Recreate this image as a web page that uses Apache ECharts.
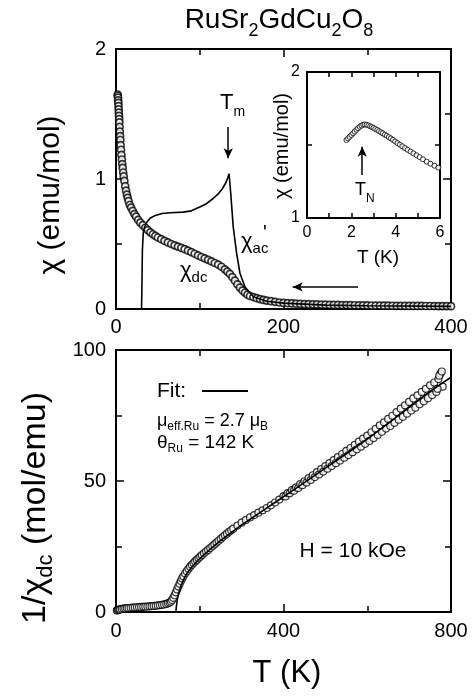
<!DOCTYPE html>
<html>
<head>
<meta charset="utf-8">
<script src="https://cdn.jsdelivr.net/npm/echarts@6/dist/echarts.min.js"></script>
<style>
html,body{margin:0;padding:0;background:#fff;}
#chart{width:474px;height:696px;}
</style>
</head>
<body>
<div id="chart"></div>
<script>
// ---------------- DATA ----------------
// Top panel: chi_dc (emu/mol) vs T (K)
const dcT = [2.0,2.2,2.4,2.6,2.8,3.0,3.2,3.4,3.6,3.8,4.0,4.3,4.6,4.9,5.2,5.6,6.0,6.5,7.0,7.5,8.0,8.6,9.2,10,11,12,13,14,15,16.5,18,20,22,24,26.5,29,32,35,38,41,44,47,50,54,58,62,66,70,74,78,82,86,90,94,98,102,106,110,114,118,122,126,130,133,136,139,142,145,148,151,154,157,160,164,168,172,176,180,185,190,195,200,205,210,215,220,225,230,235,240,245,250,255,260,265,270,275,280,285,290,295,300,305,310,315,320,325,330,335,340,345,350,355,360,365,370,375,380,385,390,395,400];
const dcChi = [1.65,1.64,1.625,1.605,1.585,1.56,1.535,1.51,1.485,1.46,1.435,1.40,1.365,1.33,1.30,1.26,1.225,1.185,1.15,1.115,1.085,1.05,1.02,0.985,0.945,0.91,0.88,0.855,0.83,0.80,0.78,0.755,0.73,0.71,0.685,0.665,0.645,0.625,0.607,0.59,0.575,0.562,0.55,0.537,0.524,0.512,0.50,0.49,0.48,0.47,0.46,0.449,0.437,0.425,0.412,0.40,0.39,0.378,0.366,0.354,0.342,0.325,0.305,0.288,0.27,0.245,0.218,0.19,0.165,0.142,0.125,0.11,0.10,0.092,0.083,0.076,0.07,0.065,0.06,0.055,0.05,0.047,0.045,0.043,0.041,0.0395,0.038,0.037,0.036,0.035,0.034,0.033,0.032,0.0315,0.031,0.0305,0.030,0.0295,0.029,0.0285,0.028,0.0275,0.027,0.0265,0.026,0.0258,0.0255,0.025,0.0248,0.0245,0.0242,0.024,0.0238,0.0236,0.0234,0.0232,0.023,0.0228,0.0226,0.0224,0.0222,0.022];

// Top panel: chi_ac' (line)
const acT = [30.5,31,31.5,32.5,34,37,41,47,55,65,80,90,100,108,116,122,127,131,133.5,135,137,140,144,148,154,164,180,200,250,300,400];
const acChi = [0,0.2,0.45,0.58,0.63,0.67,0.70,0.72,0.735,0.74,0.745,0.755,0.785,0.81,0.85,0.885,0.925,0.97,1.01,1.04,0.89,0.63,0.43,0.275,0.17,0.095,0.06,0.045,0.03,0.025,0.02];

// Inset: chi (emu/mol) vs T (K), low temperature
const inT = [1.78,1.85,1.92,2.0,2.08,2.15,2.23,2.3,2.38,2.46,2.54,2.61,2.69,2.77,2.85,2.92,3.0,3.08,3.17,3.25,3.34,3.42,3.51,3.6,3.69,3.78,3.88,3.98,4.08,4.19,4.3,4.42,4.54,4.67,4.8,4.94,5.08,5.23,5.4,5.57,5.75,5.93];
const inChi = [1.534,1.545,1.556,1.568,1.58,1.592,1.604,1.615,1.625,1.633,1.639,1.641,1.638,1.634,1.628,1.623,1.617,1.61,1.603,1.595,1.587,1.58,1.571,1.563,1.554,1.545,1.535,1.524,1.513,1.502,1.491,1.479,1.467,1.455,1.443,1.43,1.417,1.402,1.386,1.372,1.358,1.345];

// Bottom panel: 1/chi_dc (mol/emu) vs T (K)
const invT = [2,4,6,8,10,14,18,22,26,30,35,40,45,50,55,60,65,70,75,80,85,90,95,100,105,110,115,120,124,128,131,134,137,140,143,146,149,152,155,158,161,165,169,173,177,181,185,189,193,197,201,205,210,215,220,225,230,235,240,245,250,255,260,265,270,275,280,290,300,310,320,330,340,350,360,370,380,390,400,405,410,415,420,425,430,435,440,445,450,455,460,465,470,475,480,485,490,495,500,505,510,515,520,525,530,535,540,545,550,555,560,565,570,575,580,585,590,595,600,605,610,615,620,625,630,635,640,645,650,655,660,665,670,675,680,685,690,695,700,705,710,715,720,725,730,735,740,745,750,755,760,765,770,775,780,772,778,768];
const invChi = [0.61,0.7,0.82,0.92,1.0,1.17,1.3,1.38,1.47,1.52,1.6,1.68,1.75,1.82,1.88,1.93,1.98,2.03,2.1,2.16,2.23,2.3,2.37,2.5,2.6,2.75,2.9,3.1,3.3,3.6,4.0,4.6,5.4,6.4,7.5,8.6,9.7,10.8,11.8,12.8,13.6,14.7,15.6,16.5,17.3,18.0,18.7,19.3,19.9,20.5,21.1,21.7,22.4,23.1,23.7,24.4,25.1,25.8,26.5,27.2,27.9,28.6,29.3,29.9,30.6,31.2,31.8,33.0,34.1,35.1,36.1,37.0,37.9,38.8,39.7,40.7,41.8,42.9,44.2,44.1,45.4,45.3,46.5,46.3,47.6,47.3,48.8,48.4,49.9,49.4,51.1,50.4,52.2,51.5,53.4,52.5,54.5,53.6,55.7,54.7,56.8,55.7,58.0,56.8,59.1,57.8,60.3,58.9,61.5,59.9,62.6,61.0,63.8,62.1,65.0,63.1,66.2,64.2,67.3,65.3,68.6,66.4,69.9,67.6,71.2,68.8,72.4,70.0,73.7,71.0,74.9,72.2,76.3,73.4,77.6,74.5,78.9,75.7,80.2,76.9,81.5,78.0,82.7,79.3,84.0,80.4,85.2,81.6,86.5,82.8,87.6,84.0,88.9,91.0,86.0,90.2,91.8,85.2];

// Bottom panel: fit curve
const fitT = [143,144,145.5,147,149,152,156,160,165,170,180,190,200,225,250,275,300,350,400,450,500,550,600,650,700,750,800];
const fitV = [0,1.8,3.8,5.3,6.8,8.4,10.3,11.9,13.5,14.9,17.0,18.8,20.4,24.0,27.3,30.3,33.2,38.6,44.0,49.4,54.9,60.4,66.0,72.0,78.2,84.2,89.6];

// Axis tick settings
const topXTicks = {min:0, max:400, interval:200};
const topYTicks = {min:0, max:2, interval:1};
const insXTicks = {min:0, max:6, interval:2};
const insYTicks = {min:1, max:2, interval:1};
const botXTicks = {min:0, max:800, interval:400};
const botYTicks = {min:0, max:100, interval:50};

// ---------------- CHART ----------------
const FONT = '"Liberation Sans", Arial, Helvetica, sans-serif';
const zip = (a, b) => a.map((v, i) => [v, b[i]]);

const chart = echarts.init(document.getElementById('chart'), null, {renderer: 'canvas'});

function mkAxis(grid, ticks, pos, showLabel, fs, margin, tickLen, minorLen) {
  return {
    type: 'value', gridIndex: grid, position: pos,
    min: ticks.min, max: ticks.max, interval: ticks.interval,
    axisLine: {show: true, onZero: false, lineStyle: {color: '#000', width: 2}},
    axisTick: {show: true, inside: true, length: tickLen, lineStyle: {color: '#000', width: 1.5}},
    minorTick: {show: true, splitNumber: 2, length: minorLen, lineStyle: {color: '#000', width: 1.5}},
    splitLine: {show: false},
    axisLabel: {show: showLabel, color: '#000', fontFamily: FONT, fontSize: fs, margin: margin},
  };
}

const ctx = document.createElement('canvas').getContext('2d');
function measure(t, s) { ctx.font = s + 'px ' + FONT; return ctx.measureText(t).width; }
// pieces: [text, fontSize, dy]
function label(x, y, pieces, rot, align) {
  let cur = 0;
  const children = pieces.map(p => {
    const el = {type: 'text', x: cur, y: p[2] || 0,
      style: {text: p[0], fontSize: p[1], fontFamily: FONT, fill: '#000', align: 'left', verticalAlign: 'middle'}};
    cur += measure(p[0], p[1]);
    return el;
  });
  const off = align === 'left' ? 0 : -cur / 2;
  children.forEach(c => c.x += off);
  return {type: 'group', x: x, y: y, rotation: rot || 0, children: children, silent: true};
}

const option = {
  animation: false,
  backgroundColor: '#fff',
  grid: [
    {left: 116, top: 49, width: 335, height: 260},
    {left: 307, top: 72, width: 133, height: 146},
    {left: 116, top: 350, width: 335, height: 262}
  ],
  xAxis: [
    mkAxis(0, topXTicks, 'bottom', true, 20, 8, 8, 6),
    mkAxis(0, topXTicks, 'top', false, 20, 8, 8, 6),
    mkAxis(1, insXTicks, 'bottom', true, 16, 7, 5, 5),
    mkAxis(1, insXTicks, 'top', false, 16, 7, 5, 5),
    mkAxis(2, botXTicks, 'bottom', true, 20, 9, 8, 6),
    mkAxis(2, botXTicks, 'top', false, 20, 9, 8, 6)
  ],
  yAxis: [
    mkAxis(0, topYTicks, 'left', true, 20, 10, 8, 6),
    mkAxis(0, topYTicks, 'right', false, 20, 10, 8, 6),
    mkAxis(1, insYTicks, 'left', true, 16, 7, 5, 5),
    mkAxis(1, insYTicks, 'right', false, 16, 7, 5, 5),
    mkAxis(2, botYTicks, 'left', true, 20, 10, 8, 6),
    mkAxis(2, botYTicks, 'right', false, 20, 10, 8, 6)
  ],
  series: [
    {type: 'line', xAxisIndex: 0, yAxisIndex: 0, data: zip(acT, acChi), showSymbol: false, symbol: 'none',
     lineStyle: {color: '#000', width: 1.6}, z: 3,
     markLine: {silent: true, symbol: ['none','arrow'], symbolSize: [7,10], animation: false, label: {show: false},
       lineStyle: {color: '#000', width: 1.5, type: 'solid'},
       data: [[{coord: [134, 1.40]}, {coord: [134, 1.16]}], [{coord: [289, 0.17]}, {coord: [211, 0.17]}]]}},
    {type: 'scatter', xAxisIndex: 0, yAxisIndex: 0, data: zip(dcT, dcChi), symbol: 'circle', symbolSize: 7,
     itemStyle: {color: '#fff', borderColor: '#000', borderWidth: 1.7}, z: 2},
    {type: 'scatter', xAxisIndex: 2, yAxisIndex: 2, data: zip(inT, inChi), symbol: 'circle', symbolSize: 5,
     itemStyle: {color: '#fff', borderColor: '#000', borderWidth: 1},
     markLine: {silent: true, symbol: ['none','arrow'], symbolSize: [7,10], animation: false, label: {show: false},
       lineStyle: {color: '#000', width: 1.5, type: 'solid'},
       data: [[{coord: [2.49, 1.295]}, {coord: [2.49, 1.488]}]]}},
    {type: 'scatter', xAxisIndex: 4, yAxisIndex: 4, data: zip(invT, invChi), symbol: 'circle', symbolSize: 7,
     itemStyle: {color: '#fff', borderColor: '#000', borderWidth: 1.2}, z: 2},
    {type: 'line', xAxisIndex: 4, yAxisIndex: 4, data: zip(fitT, fitV), showSymbol: false, symbol: 'none',
     lineStyle: {color: '#000', width: 1.6}, z: 3}
  ],
  graphic: [
    label(279, 20, [['RuSr',28],['2',18,11],['GdCu',28],['2',18,11],['O',28],['8',18,11]]),
    label(51, 195, [['χ (emu/mol)', 30]], Math.PI / 2),
    label(36, 508, [['1/χ', 34], ['dc', 22, 10], [' (mol/emu)', 34]], Math.PI / 2),
    label(287, 673, [['T (K)', 31]]),
    label(220, 103, [['T', 22], ['m', 14, 9]], 0, 'left'),
    label(241, 242, [['χ', 22], ['ac', 15, 7]], 0, 'left'),
    label(263, 233, [["'", 20]], 0, 'left'),
    label(180, 271, [['χ', 22], ['dc', 15, 7]], 0, 'left'),
    label(355, 190, [['T', 18], ['N', 12, 9]], 0, 'left'),
    label(378, 258, [['T (K)', 19]]),
    label(282, 146, [['χ (emu/mol)', 20]], Math.PI / 2),
    label(157, 391, [['Fit:', 21]], 0, 'left'),
    {type: 'line', shape: {x1: 202, y1: 391, x2: 248, y2: 391}, style: {stroke: '#000', lineWidth: 2}},
    label(157, 421, [['μ', 18], ['eff.Ru', 12, 6], [' = 2.7 ', 18], ['μ', 18], ['B', 12, 6]], 0, 'left'),
    label(157, 443, [['θ', 19], ['Ru', 12, 6], [' = 142 K', 19]], 0, 'left'),
    label(353, 551, [['H = 10 kOe', 21]])
  ]
};
chart.setOption(option);
</script>
</body>
</html>
